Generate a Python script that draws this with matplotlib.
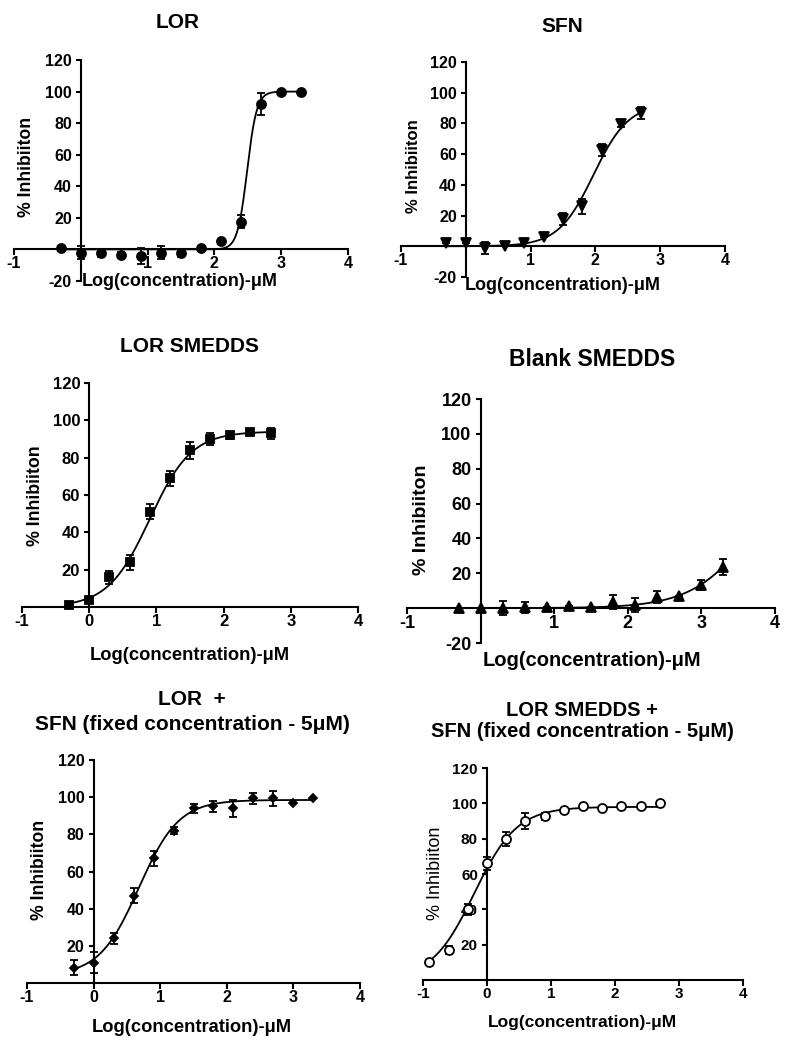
import numpy as np
import matplotlib
matplotlib.use('Agg')
import matplotlib.pyplot as plt

plt.rcParams['font.family'] = ['Liberation Sans', 'DejaVu Sans']

W = 798
H = 1050

#log concentrations used in the plates
log_conc = [-0.3, 0, 0.3, 0.6, 0.9, 1.2, 1.5, 1.8, 2.1, 2.4, 2.7, 3.0, 3.3]
log_conc_short = [-0.3, 0, 0.3, 0.6, 0.9, 1.2, 1.5, 1.8, 2.1, 2.4, 2.7]
log_conc_combo = [-0.9, -0.6, -0.3, 0, 0.3, 0.6, 0.9, 1.2, 1.5, 1.8, 2.1, 2.4, 2.7]

#LOR
lor_mean = [1, -2, -2.5, -3.5, -4, -2, -2.5, 1, 5.5, 17.5, 92, 99.5, 100]
lor_err = [0, 4, 2, 2, 5, 4, 2, 0, 0, 4, 7, 0, 0]
lor_fit = [0, 100, 2.49, 6.0]

#SFN
sfn_mean = [2, 2, -1, 0, 2, 6, 18, 26, 62.5, 79.5, 87]
sfn_err = [0, 0, 4, 0, 0, 0, 4, 5, 4, 2, 4]
sfn_fit = [0, 93, 1.97, 1.6]

#LOR SMEDDS
smedds_mean = [1, 4, 16, 24, 51, 69, 84, 90, 92, 94, 93]
smedds_err = [0, 0, 3.5, 4, 4, 4, 4.5, 3, 2, 0, 3]
smedds_fit = [0, 94, 0.9, 1.4]

#Blank SMEDDS
blank_mean = [0, 0, 0, 0.4, 0.4, 1.5, 0.4, 3.4, 2, 6.3, 7.2, 13.3, 23.8]
blank_err = [0, 0, 4, 3, 0, 0, 0, 4, 4, 3.5, 0, 3, 4.5]
blank_fit = [0, 100, 3.8, 1.0]

#LOR + SFN 5uM
combo_mean = [8.3, 11, 24, 47, 67, 82, 94, 95, 94, 99.3, 99.3, 97, 99.3]
combo_err = [4, 5.5, 3, 4, 4, 2, 2.5, 3, 4.5, 3, 4, 0, 0]
combo_fit = [4, 98.5, 0.68, 1.45]

#LOR SMEDDS + SFN 5uM
smcombo_mean = [10.4, 17, 40, 66, 80, 90, 92.6, 96.4, 98.7, 97.4, 98.7, 98.7, 100.2]
smcombo_err = [0, 2, 3, 3.5, 4, 4.5, 2, 0, 0, 0, 0, 0, 0]
smcombo_fit = [0, 98, -0.2, 1.3]

xlab = 'Log(concentration)-\u03bcM'
ylab = '% Inhibiiton'


#four parameter logistic fit line
def four_pl(x, p):
    bottom, top, c, h = p
    return bottom + (top - bottom) / (1 + 10 ** (h * (c - x)))


def rect(x0, x1, ytop, ybot):
    return [x0 / W, 1 - ybot / H, (x1 - x0) / W, (ybot - ytop) / H]


def fx(x, y):
    return (x / W, 1 - y / H)


def panel(fig, box, x, mean, err, fit, marker, ms, ymin, xticks, yticks,
          tfs, title, tpos, title_fs, xpos, xfs, ypos, yfs,
          open_marker=False, yweight='bold', linesp=1.2):
    ax = fig.add_axes(rect(*box))
    ax.set_xlim(-1, 4)
    ax.set_ylim(ymin, 120)
    #axes cross at zero like prism
    ax.spines['left'].set_position(('data', 0))
    ax.spines['bottom'].set_position(('data', 0))
    ax.spines['top'].set_visible(False)
    ax.spines['right'].set_visible(False)
    for s in ['left', 'bottom']:
        ax.spines[s].set_linewidth(1.5)
        ax.spines[s].set_zorder(1)
    ax.set_xticks(xticks, [str(t) for t in xticks], fontsize=tfs, fontweight='bold')
    ax.set_yticks(yticks, [str(t) for t in yticks], fontsize=tfs, fontweight='bold')
    ax.tick_params(axis='x', length=4, width=1.5, pad=1)
    ax.tick_params(axis='y', length=3.5, width=1.5, pad=3)
    ax.patch.set_visible(False)

    #fit line
    xs = np.linspace(min(x), max(x), 300)
    ax.plot(xs, four_pl(xs, fit), color='black', linewidth=1.3, zorder=3, clip_on=False)

    #points with sem bars
    if open_marker:
        fc = 'white'
    else:
        fc = 'black'
    ax.errorbar(x, mean, yerr=err, fmt='none', ecolor='black', elinewidth=1.3,
                capsize=2.8, capthick=1.3, zorder=4, clip_on=False)
    ax.plot(x, mean, linestyle='none', marker=marker, markersize=ms,
            markerfacecolor=fc, markeredgecolor='black', markeredgewidth=1.3,
            zorder=5, clip_on=False)

    #naming
    ax.set_title(title, fontsize=title_fs, fontweight='bold', transform=fig.transFigure,
                 x=tpos[0] / W, y=1 - tpos[1] / H, va='center', ha='center',
                 linespacing=linesp)
    ax.set_xlabel(xlab, fontsize=xfs, fontweight='bold')
    ax.xaxis.set_label_coords(*fx(*xpos), transform=fig.transFigure)
    ax.xaxis.label.set_verticalalignment('center')
    ax.set_ylabel(ylab, fontsize=yfs, fontweight=yweight)
    ax.yaxis.set_label_coords(*fx(*ypos), transform=fig.transFigure)
    ax.yaxis.label.set_verticalalignment('center')
    return ax


def main():
    fig = plt.figure(figsize=(W / 100, H / 100), dpi=100)
    neg_y = [-20, 20, 40, 60, 80, 100, 120]
    pos_y = [20, 40, 60, 80, 100, 120]
    x_no0 = [-1, 1, 2, 3, 4]
    x_all = [-1, 0, 1, 2, 3, 4]

    panel(fig, (14, 348, 60, 281), log_conc, lor_mean, lor_err, lor_fit, 'o', 6.5,
          -20, x_no0, neg_y, 11.5, 'LOR', (178, 23), 15, (180, 281), 13, (27, 167), 12.7)
    panel(fig, (401, 725, 62, 277), log_conc_short, sfn_mean, sfn_err, sfn_fit, 'v', 7,
          -20, x_no0, neg_y, 11.5, 'SFN', (562, 27), 15, (563, 286), 13, (414, 166), 12)
    panel(fig, (22, 358, 383, 607), log_conc_short, smedds_mean, smedds_err, smedds_fit, 's', 6,
          0, x_all, pos_y, 12, 'LOR SMEDDS', (190, 347), 15, (190, 655), 13.2, (35, 496), 12.8)
    panel(fig, (407, 775, 399, 643), log_conc, blank_mean, blank_err, blank_fit, '^', 7,
          -20, x_no0, neg_y, 13, 'Blank SMEDDS', (592, 359), 16.5, (592, 660), 14.5, (422, 520), 14)
    panel(fig, (27, 360, 760, 983), log_conc, combo_mean, combo_err, combo_fit, 'D', 4,
          0, x_all, pos_y, 11.5, 'LOR  +\nSFN (fixed concentration - 5\u03bcM)', (192, 712), 15,
          (192, 1028), 13.2, (40, 870), 12.7, linesp=1.35)
    panel(fig, (423, 743, 768, 980), log_conc_combo, smcombo_mean, smcombo_err, smcombo_fit, 'o', 6.5,
          0, x_all, pos_y, 11, 'LOR SMEDDS +\nSFN (fixed concentration - 5\u03bcM)', (582, 721), 14.5,
          (582, 1023), 12.5, (436, 873), 13, open_marker=True, yweight='normal', linesp=1.15)

    fig.savefig('out.png', dpi=100)


if __name__ == "__main__":
    main()
